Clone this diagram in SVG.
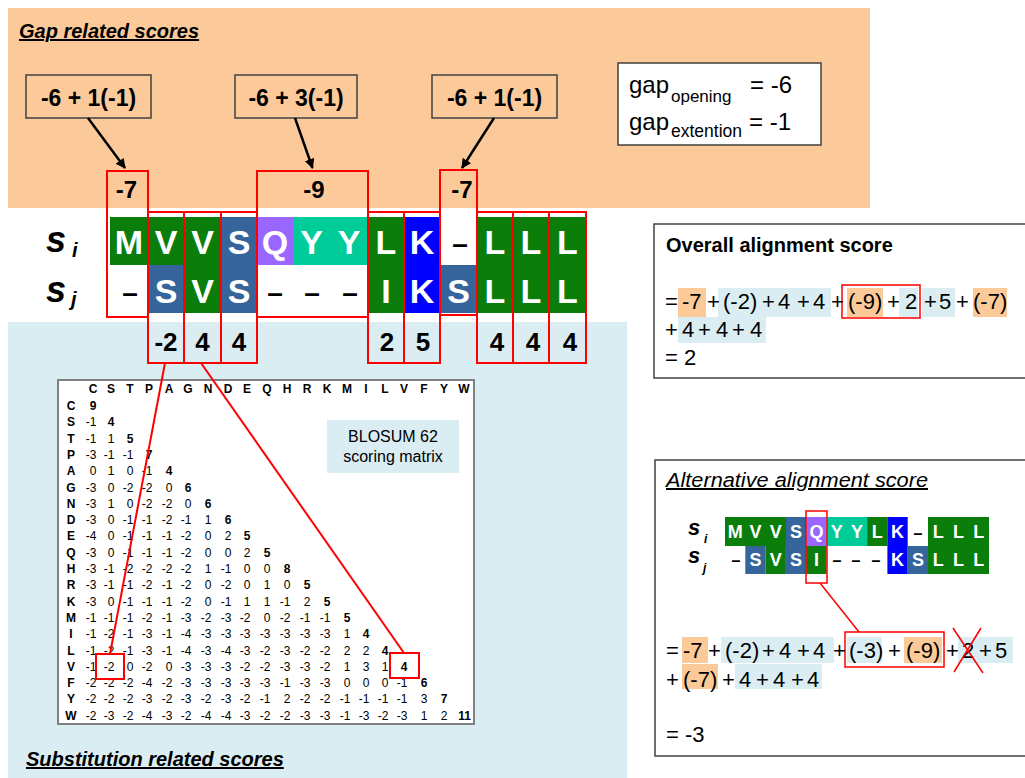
<svg xmlns="http://www.w3.org/2000/svg" width="1025" height="778" viewBox="0 0 1025 778">
<defs>
<style>
text{font-family:"Liberation Sans",Arial,sans-serif}
.ttl{font-size:20px;font-weight:bold;font-style:italic;text-decoration:underline}
.box{fill:none;stroke:#404040;stroke-width:1.5}
.wbox{fill:#fff;stroke:#404040;stroke-width:1.5}
.red{fill:none;stroke:#f00;stroke-width:2}
.red1{fill:none;stroke:#f00;stroke-width:1.5}
.gf{font-size:23px;font-weight:bold;text-anchor:middle}
.gv{font-size:24px;font-weight:bold;text-anchor:middle}
.L{font-size:34px;font-weight:bold;fill:#fff;text-anchor:middle}
.D{font-size:28px;font-weight:bold;fill:#000;text-anchor:middle}
.sc{font-size:26px;font-weight:bold;text-anchor:middle}
.lab{font-size:36px;font-weight:bold;font-style:italic}
.sub{font-size:20px;font-weight:bold;font-style:italic}
.mL{font-size:18px;font-weight:bold;fill:#fff;text-anchor:middle}
.mD{font-size:16px;font-weight:bold;fill:#000;text-anchor:middle}
.mlab{font-size:22px;font-weight:bold;font-style:italic}
.msub{font-size:12px;font-weight:bold;font-style:italic}
.eq{font-size:22px}
.m{font-size:12px;text-anchor:end}
.mb{font-size:12px;font-weight:bold}
.hdr{font-size:12px;font-weight:bold;text-anchor:middle}
.grn{fill:#0A7D0A}.slt{fill:#35659A}.pur{fill:#9966FF}.tea{fill:#00CC99}.blu{fill:#0000FF}
.hO{fill:#FBCA98}.hB{fill:#DAEDF3}
</style>
<marker id="ah" viewBox="0 0 10 10" refX="9" refY="5" markerWidth="4" markerHeight="4" orient="auto" markerUnits="strokeWidth">
<path d="M0,0 L10,5 L0,10 z" fill="#000"/>
</marker>
</defs>
<rect width="1025" height="778" fill="#fff"/>
<g id="gap-region">
<rect x="8" y="8" width="862" height="200" fill="#FCCA9A"/>
<text class="ttl" x="19" y="38">Gap related scores</text>
</g>
<g id="substitution-region">
<rect x="8" y="322" width="619" height="456" fill="#DAEDF3"/>
<text class="ttl" x="26" y="766">Substitution related scores</text>
</g>
<g id="gap-formula-1"><rect class="box" x="26" y="75" width="125" height="43"/><text class="gf" x="88.5" y="106">-6 + 1(-1)</text></g>
<g id="gap-formula-2"><rect class="box" x="235" y="75" width="122" height="43"/><text class="gf" x="296" y="106">-6 + 3(-1)</text></g>
<g id="gap-formula-3"><rect class="box" x="432" y="75" width="125" height="43"/><text class="gf" x="494.5" y="106">-6 + 1(-1)</text></g>
<g id="gap-params">
<rect class="wbox" x="618" y="63" width="203" height="82"/>
<text x="629" y="93" font-size="24">gap</text><text x="671" y="102" font-size="17">opening</text><text x="750" y="93" font-size="24">= -6</text>
<text x="629" y="130" font-size="24">gap</text><text x="671" y="137" font-size="17.5">extention</text><text x="749" y="130" font-size="24">= -1</text>
</g>
<g id="alignment">
<rect class="grn" x="110" y="217" width="111" height="48"/>
<rect class="slt" x="221" y="217" width="36" height="96"/>
<rect class="pur" x="257" y="217" width="36" height="48"/>
<rect class="tea" x="293" y="217" width="75" height="48"/>
<rect class="grn" x="368" y="217" width="36" height="96"/>
<rect class="blu" x="404" y="217" width="36" height="96"/>
<rect class="grn" x="477" y="217" width="109" height="96"/>
<rect class="slt" x="148" y="265" width="36" height="48"/>
<rect class="grn" x="184" y="265" width="37" height="48"/>
<rect class="slt" x="440" y="265" width="37" height="48"/>
<text class="lab" x="46" y="252">s</text><text class="sub" x="72" y="257">i</text>
<text class="lab" x="46" y="302">s</text><text class="sub" x="71" y="306">j</text>
<text class="L" x="129" y="254">M</text><text class="L" x="166" y="254">V</text><text class="L" x="202.5" y="254">V</text><text class="L" x="239" y="254">S</text><text class="L" x="275" y="254">Q</text><text class="L" x="311.5" y="254">Y</text><text class="L" x="349" y="254">Y</text><text class="L" x="386" y="254">L</text><text class="L" x="422" y="254">K</text><text class="D" x="460" y="253">–</text><text class="L" x="495" y="254">L</text><text class="L" x="531" y="254">L</text><text class="L" x="567.5" y="254">L</text>
<text class="D" x="130" y="302">–</text><text class="L" x="166" y="303">S</text><text class="L" x="202.5" y="303">V</text><text class="L" x="239" y="303">S</text><text class="D" x="275" y="302">–</text><text class="D" x="312" y="302">–</text><text class="D" x="350" y="302">–</text><text class="L" x="386" y="303">I</text><text class="L" x="422" y="303">K</text><text class="L" x="458.5" y="303">S</text><text class="L" x="495" y="303">L</text><text class="L" x="531" y="303">L</text><text class="L" x="567.5" y="303">L</text>
</g>
<g id="gap-score-1"><rect class="red" x="107" y="171" width="41" height="146"/><text class="gv" x="126.5" y="198">-7</text></g>
<g id="gap-score-2"><rect class="red" x="257" y="171" width="111" height="146"/><text class="gv" x="314" y="198">-9</text></g>
<g id="gap-score-3"><rect class="red" x="440" y="170" width="37" height="145"/><text class="gv" x="462" y="198">-7</text></g>
<g id="sub-scores">
<rect class="red" x="148" y="212" width="36" height="151"/><text class="sc" x="166" y="351">-2</text>
<rect class="red" x="184" y="212" width="37" height="151"/><text class="sc" x="202.5" y="351">4</text>
<rect class="red" x="221" y="212" width="36" height="151"/><text class="sc" x="239" y="351">4</text>
<rect class="red" x="368" y="212" width="36" height="151"/><text class="sc" x="387" y="351">2</text>
<rect class="red" x="404" y="212" width="36" height="151"/><text class="sc" x="423" y="351">5</text>
<rect class="red" x="477" y="212" width="36" height="151"/><text class="sc" x="497" y="351">4</text>
<rect class="red" x="513" y="212" width="36" height="151"/><text class="sc" x="533" y="351">4</text>
<rect class="red" x="549" y="212" width="37" height="151"/><text class="sc" x="570" y="351">4</text>
</g>
<g id="blosum62">
<rect x="58" y="380" width="416" height="344" fill="#fff" stroke="#808080" stroke-width="2"/>
<text class="hdr" y="393"><tspan x="93">C</tspan><tspan x="111">S</tspan><tspan x="130">T</tspan><tspan x="149">P</tspan><tspan x="169">A</tspan><tspan x="188">G</tspan><tspan x="208">N</tspan><tspan x="228">D</tspan><tspan x="247">E</tspan><tspan x="267">Q</tspan><tspan x="287">H</tspan><tspan x="307">R</tspan><tspan x="327">K</tspan><tspan x="347">M</tspan><tspan x="366">I</tspan><tspan x="385">L</tspan><tspan x="404">V</tspan><tspan x="424">F</tspan><tspan x="444">Y</tspan><tspan x="464">W</tspan></text>
<text class="hdr" x="71"><tspan x="71" y="410">C</tspan><tspan x="71" y="426.3">S</tspan><tspan x="71" y="442.6">T</tspan><tspan x="71" y="458.9">P</tspan><tspan x="71" y="475.2">A</tspan><tspan x="71" y="491.5">G</tspan><tspan x="71" y="507.8">N</tspan><tspan x="71" y="524.1">D</tspan><tspan x="71" y="540.4">E</tspan><tspan x="71" y="556.7">Q</tspan><tspan x="71" y="573">H</tspan><tspan x="71" y="589.3">R</tspan><tspan x="71" y="605.6">K</tspan><tspan x="71" y="621.9">M</tspan><tspan x="71" y="638.2">I</tspan><tspan x="71" y="654.5">L</tspan><tspan x="71" y="670.8">V</tspan><tspan x="71" y="687.1">F</tspan><tspan x="71" y="703.4">Y</tspan><tspan x="71" y="719.7">W</tspan></text>
<text class="m" y="410"><tspan class="mb" x="96.5">9</tspan></text>
<text class="m" y="426.3"><tspan x="96.5">-1</tspan><tspan class="mb" x="114.5">4</tspan></text>
<text class="m" y="442.6"><tspan x="96.5">-1</tspan><tspan x="114.5">1</tspan><tspan class="mb" x="133.5">5</tspan></text>
<text class="m" y="458.9"><tspan x="96.5">-3</tspan><tspan x="114.5">-1</tspan><tspan x="133.5">-1</tspan><tspan class="mb" x="152.5">7</tspan></text>
<text class="m" y="475.2"><tspan x="96.5">0</tspan><tspan x="114.5">1</tspan><tspan x="133.5">0</tspan><tspan x="152.5">-1</tspan><tspan class="mb" x="172.5">4</tspan></text>
<text class="m" y="491.5"><tspan x="96.5">-3</tspan><tspan x="114.5">0</tspan><tspan x="133.5">-2</tspan><tspan x="152.5">-2</tspan><tspan x="172.5">0</tspan><tspan class="mb" x="191.5">6</tspan></text>
<text class="m" y="507.8"><tspan x="96.5">-3</tspan><tspan x="114.5">1</tspan><tspan x="133.5">0</tspan><tspan x="152.5">-2</tspan><tspan x="172.5">-2</tspan><tspan x="191.5">0</tspan><tspan class="mb" x="211.5">6</tspan></text>
<text class="m" y="524.1"><tspan x="96.5">-3</tspan><tspan x="114.5">0</tspan><tspan x="133.5">-1</tspan><tspan x="152.5">-1</tspan><tspan x="172.5">-2</tspan><tspan x="191.5">-1</tspan><tspan x="211.5">1</tspan><tspan class="mb" x="231.5">6</tspan></text>
<text class="m" y="540.4"><tspan x="96.5">-4</tspan><tspan x="114.5">0</tspan><tspan x="133.5">-1</tspan><tspan x="152.5">-1</tspan><tspan x="172.5">-1</tspan><tspan x="191.5">-2</tspan><tspan x="211.5">0</tspan><tspan x="231.5">2</tspan><tspan class="mb" x="250.5">5</tspan></text>
<text class="m" y="556.7"><tspan x="96.5">-3</tspan><tspan x="114.5">0</tspan><tspan x="133.5">-1</tspan><tspan x="152.5">-1</tspan><tspan x="172.5">-1</tspan><tspan x="191.5">-2</tspan><tspan x="211.5">0</tspan><tspan x="231.5">0</tspan><tspan x="250.5">2</tspan><tspan class="mb" x="270.5">5</tspan></text>
<text class="m" y="573"><tspan x="96.5">-3</tspan><tspan x="114.5">-1</tspan><tspan x="133.5">-2</tspan><tspan x="152.5">-2</tspan><tspan x="172.5">-2</tspan><tspan x="191.5">-2</tspan><tspan x="211.5">1</tspan><tspan x="231.5">-1</tspan><tspan x="250.5">0</tspan><tspan x="270.5">0</tspan><tspan class="mb" x="290.5">8</tspan></text>
<text class="m" y="589.3"><tspan x="96.5">-3</tspan><tspan x="114.5">-1</tspan><tspan x="133.5">-1</tspan><tspan x="152.5">-2</tspan><tspan x="172.5">-1</tspan><tspan x="191.5">-2</tspan><tspan x="211.5">0</tspan><tspan x="231.5">-2</tspan><tspan x="250.5">0</tspan><tspan x="270.5">1</tspan><tspan x="290.5">0</tspan><tspan class="mb" x="310.5">5</tspan></text>
<text class="m" y="605.6"><tspan x="96.5">-3</tspan><tspan x="114.5">0</tspan><tspan x="133.5">-1</tspan><tspan x="152.5">-1</tspan><tspan x="172.5">-1</tspan><tspan x="191.5">-2</tspan><tspan x="211.5">0</tspan><tspan x="231.5">-1</tspan><tspan x="250.5">1</tspan><tspan x="270.5">1</tspan><tspan x="290.5">-1</tspan><tspan x="310.5">2</tspan><tspan class="mb" x="330.5">5</tspan></text>
<text class="m" y="621.9"><tspan x="96.5">-1</tspan><tspan x="114.5">-1</tspan><tspan x="133.5">-1</tspan><tspan x="152.5">-2</tspan><tspan x="172.5">-1</tspan><tspan x="191.5">-3</tspan><tspan x="211.5">-2</tspan><tspan x="231.5">-3</tspan><tspan x="250.5">-2</tspan><tspan x="270.5">0</tspan><tspan x="290.5">-2</tspan><tspan x="310.5">-1</tspan><tspan x="330.5">-1</tspan><tspan class="mb" x="350.5">5</tspan></text>
<text class="m" y="638.2"><tspan x="96.5">-1</tspan><tspan x="114.5">-2</tspan><tspan x="133.5">-1</tspan><tspan x="152.5">-3</tspan><tspan x="172.5">-1</tspan><tspan x="191.5">-4</tspan><tspan x="211.5">-3</tspan><tspan x="231.5">-3</tspan><tspan x="250.5">-3</tspan><tspan x="270.5">-3</tspan><tspan x="290.5">-3</tspan><tspan x="310.5">-3</tspan><tspan x="330.5">-3</tspan><tspan x="350.5">1</tspan><tspan class="mb" x="369.5">4</tspan></text>
<text class="m" y="654.5"><tspan x="96.5">-1</tspan><tspan x="114.5">-2</tspan><tspan x="133.5">-1</tspan><tspan x="152.5">-3</tspan><tspan x="172.5">-1</tspan><tspan x="191.5">-4</tspan><tspan x="211.5">-3</tspan><tspan x="231.5">-4</tspan><tspan x="250.5">-3</tspan><tspan x="270.5">-2</tspan><tspan x="290.5">-3</tspan><tspan x="310.5">-2</tspan><tspan x="330.5">-2</tspan><tspan x="350.5">2</tspan><tspan x="369.5">2</tspan><tspan class="mb" x="388.5">4</tspan></text>
<text class="m" y="670.8"><tspan x="96.5">-1</tspan><tspan x="114.5">-2</tspan><tspan x="133.5">0</tspan><tspan x="152.5">-2</tspan><tspan x="172.5">0</tspan><tspan x="191.5">-3</tspan><tspan x="211.5">-3</tspan><tspan x="231.5">-3</tspan><tspan x="250.5">-2</tspan><tspan x="270.5">-2</tspan><tspan x="290.5">-3</tspan><tspan x="310.5">-3</tspan><tspan x="330.5">-2</tspan><tspan x="350.5">1</tspan><tspan x="369.5">3</tspan><tspan x="388.5">1</tspan><tspan class="mb" x="407.5">4</tspan></text>
<text class="m" y="687.1"><tspan x="96.5">-2</tspan><tspan x="114.5">-2</tspan><tspan x="133.5">-2</tspan><tspan x="152.5">-4</tspan><tspan x="172.5">-2</tspan><tspan x="191.5">-3</tspan><tspan x="211.5">-3</tspan><tspan x="231.5">-3</tspan><tspan x="250.5">-3</tspan><tspan x="270.5">-3</tspan><tspan x="290.5">-1</tspan><tspan x="310.5">-3</tspan><tspan x="330.5">-3</tspan><tspan x="350.5">0</tspan><tspan x="369.5">0</tspan><tspan x="388.5">0</tspan><tspan x="407.5">-1</tspan><tspan class="mb" x="427.5">6</tspan></text>
<text class="m" y="703.4"><tspan x="96.5">-2</tspan><tspan x="114.5">-2</tspan><tspan x="133.5">-2</tspan><tspan x="152.5">-3</tspan><tspan x="172.5">-2</tspan><tspan x="191.5">-3</tspan><tspan x="211.5">-2</tspan><tspan x="231.5">-3</tspan><tspan x="250.5">-2</tspan><tspan x="270.5">-1</tspan><tspan x="290.5">2</tspan><tspan x="310.5">-2</tspan><tspan x="330.5">-2</tspan><tspan x="350.5">-1</tspan><tspan x="369.5">-1</tspan><tspan x="388.5">-1</tspan><tspan x="407.5">-1</tspan><tspan x="427.5">3</tspan><tspan class="mb" x="447.5">7</tspan></text>
<text class="m" y="719.7"><tspan x="96.5">-2</tspan><tspan x="114.5">-3</tspan><tspan x="133.5">-2</tspan><tspan x="152.5">-4</tspan><tspan x="172.5">-3</tspan><tspan x="191.5">-2</tspan><tspan x="211.5">-4</tspan><tspan x="231.5">-4</tspan><tspan x="250.5">-3</tspan><tspan x="270.5">-2</tspan><tspan x="290.5">-2</tspan><tspan x="310.5">-3</tspan><tspan x="330.5">-3</tspan><tspan x="350.5">-1</tspan><tspan x="369.5">-3</tspan><tspan x="388.5">-2</tspan><tspan x="407.5">-3</tspan><tspan x="427.5">1</tspan><tspan x="447.5">2</tspan><tspan class="mb" x="471">11</tspan></text>
<rect class="red" x="96" y="654" width="28" height="25"/>
<rect class="red" x="390" y="653" width="29" height="25"/>
</g>
<g id="blosum-label">
<rect x="327" y="420" width="132" height="53" fill="#DAEDF3"/>
<text x="393" y="442" font-size="16" text-anchor="middle">BLOSUM 62</text>
<text x="393" y="462" font-size="16" text-anchor="middle">scoring matrix</text>
</g>
<g id="overall-score">
<rect class="wbox" x="654" y="224" width="375" height="154"/>
<text x="666" y="252" font-size="20" font-weight="bold">Overall alignment score</text>
<rect class="hO" x="678" y="288" width="28" height="29"/>
<rect class="hB" x="718" y="288" width="113" height="29"/>
<rect class="hO" x="847" y="288" width="36" height="29"/>
<rect class="hB" x="899" y="288" width="19" height="29"/>
<rect class="hB" x="922" y="288" width="33" height="29"/>
<rect class="hO" x="973" y="288" width="34" height="29"/>
<rect class="hB" x="678" y="317" width="88" height="26"/>
<rect class="red1" x="842" y="285" width="78" height="33"/>
<text class="eq" y="309"><tspan x="665">=</tspan><tspan x="682">-7</tspan><tspan x="707">+</tspan><tspan x="723">(-2)</tspan><tspan x="762">+</tspan><tspan x="778">4</tspan><tspan x="797">+</tspan><tspan x="813">4</tspan><tspan x="831">+</tspan><tspan x="848">(-9)</tspan><tspan x="887">+</tspan><tspan x="905">2</tspan><tspan x="924">+</tspan><tspan x="939">5</tspan><tspan x="956">+</tspan><tspan x="973">(-7)</tspan></text>
<text class="eq" y="337"><tspan x="665">+</tspan><tspan x="682">4</tspan><tspan x="698">+</tspan><tspan x="716">4</tspan><tspan x="732">+</tspan><tspan x="750">4</tspan></text>
<text class="eq" x="665" y="365">= 2</text>
</g>
<g id="alternative-score">
<rect class="wbox" x="655" y="460" width="375" height="296"/>
<text x="666" y="487" font-size="20" font-style="italic" text-decoration="underline" textLength="262" lengthAdjust="spacingAndGlyphs">Alternative alignment score</text>
<rect class="grn" x="725" y="517" width="61" height="29"/>
<rect class="slt" x="785.9" y="517" width="20.3" height="57"/>
<rect class="pur" x="806.2" y="517" width="20.3" height="29"/>
<rect class="tea" x="826.5" y="517" width="40.6" height="29"/>
<rect class="grn" x="867.1" y="517" width="20.3" height="29"/>
<rect class="blu" x="887.4" y="517" width="20.3" height="57"/>
<rect class="grn" x="928" y="517" width="61" height="57"/>
<rect class="slt" x="745.3" y="546" width="20.3" height="28"/>
<rect class="grn" x="765.6" y="546" width="20.3" height="28"/>
<rect class="grn" x="806.2" y="546" width="20.3" height="28"/>
<rect class="slt" x="907.7" y="546" width="20.3" height="28"/>
<text class="mlab" x="688" y="535">s</text><text class="msub" x="704" y="543">i</text>
<text class="mlab" x="688" y="563">s</text><text class="msub" x="703" y="572">j</text>
<text class="mL" x="735.2" y="538">M</text><text class="mL" x="755.5" y="538">V</text><text class="mL" x="775.8" y="538">V</text><text class="mL" x="796.1" y="538">S</text><text class="mL" x="816.4" y="538">Q</text><text class="mL" x="836.7" y="538">Y</text><text class="mL" x="857" y="538">Y</text><text class="mL" x="877.3" y="538">L</text><text class="mL" x="897.6" y="538">K</text><text class="mD" x="917.9" y="539">–</text><text class="mL" x="938.2" y="538">L</text><text class="mL" x="958.5" y="538">L</text><text class="mL" x="978.8" y="538">L</text>
<text class="mD" x="736" y="566">–</text><text class="mL" x="755.5" y="566">S</text><text class="mL" x="775.8" y="566">V</text><text class="mL" x="796.1" y="566">S</text><text class="mL" x="816.4" y="566">I</text><text class="mD" x="837" y="566">–</text><text class="mD" x="856" y="566">–</text><text class="mD" x="876" y="566">–</text><text class="mL" x="897.6" y="566">K</text><text class="mL" x="917.9" y="566">S</text><text class="mL" x="938.2" y="566">L</text><text class="mL" x="958.5" y="566">L</text><text class="mL" x="978.8" y="566">L</text>
<rect class="red1" x="806" y="511" width="21" height="72"/>
<rect class="hO" x="682" y="637" width="26" height="26"/>
<rect class="hB" x="721" y="637" width="113" height="26"/>
<rect class="hB" x="847" y="637" width="35" height="26"/>
<rect class="hO" x="904" y="637" width="38" height="26"/>
<rect class="hB" x="958" y="637" width="55" height="26"/>
<rect class="hO" x="682" y="664" width="36" height="25"/>
<rect class="hB" x="735" y="664" width="87" height="25"/>
<rect class="red1" x="845" y="632" width="99" height="35"/>
<text class="eq" y="658"><tspan x="666">=</tspan><tspan x="683">-7</tspan><tspan x="708">+</tspan><tspan x="725">(-2)</tspan><tspan x="762">+</tspan><tspan x="779">4</tspan><tspan x="797">+</tspan><tspan x="813">4</tspan><tspan x="833">+</tspan><tspan x="849">(-3)</tspan><tspan x="888">+</tspan><tspan x="906">(-9)</tspan><tspan x="946">+</tspan><tspan x="962">2</tspan><tspan x="979">+</tspan><tspan x="995">5</tspan></text>
<text class="eq" y="687"><tspan x="666">+</tspan><tspan x="683">(-7)</tspan><tspan x="722">+</tspan><tspan x="739">4</tspan><tspan x="756">+</tspan><tspan x="773">4</tspan><tspan x="791">+</tspan><tspan x="807">4</tspan></text>
<text class="eq" x="666" y="742">= -3</text>
<path class="red1" d="M953,628 L983,673 M981,628 L954,672"/>
</g>
<g id="connectors" fill="none">
<line x1="88" y1="118" x2="125" y2="168" stroke="#000" stroke-width="2.5" marker-end="url(#ah)"/>
<line x1="295" y1="118" x2="312.5" y2="168" stroke="#000" stroke-width="2.5" marker-end="url(#ah)"/>
<line x1="494" y1="118" x2="462" y2="168" stroke="#000" stroke-width="2.5" marker-end="url(#ah)"/>
<line x1="165" y1="363" x2="110" y2="654" stroke="#f00" stroke-width="2"/>
<line x1="201" y1="363" x2="404" y2="653" stroke="#f00" stroke-width="2"/>
<line x1="820" y1="583" x2="859" y2="632" stroke="#f00" stroke-width="1.5"/>
</g>
</svg>
